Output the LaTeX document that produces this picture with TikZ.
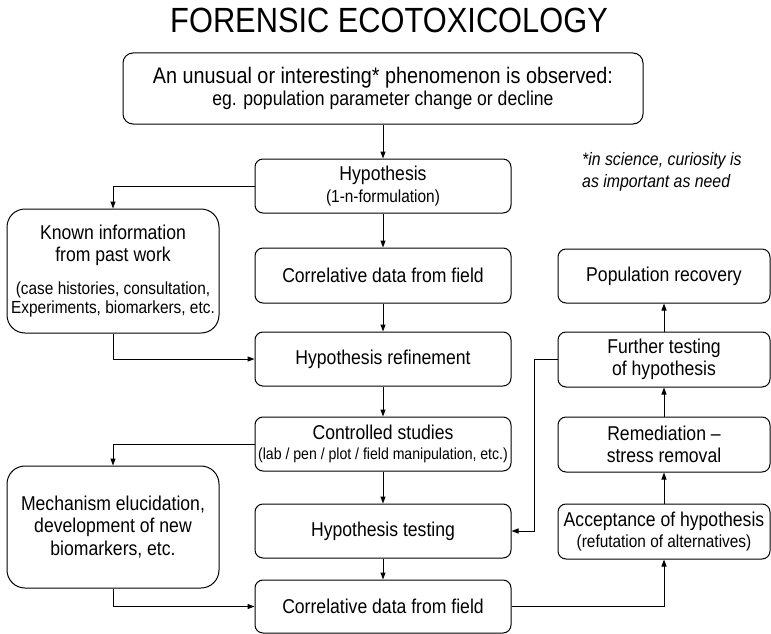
\documentclass[tikz,border=0pt]{standalone}
\usepackage{fontspec}
\setmainfont{Liberation Sans}[FakeStretch=0.88]
\usetikzlibrary{arrows.meta}
\newcommand{\bigf}{\fontsize{20}{22.5}\selectfont}
\newcommand{\smallf}{\fontsize{17.5}{20}\selectfont}

\begin{document}
\begin{tikzpicture}[x=1pt,y=-1pt,
		box/.style={draw,rounded corners=8pt,line width=1pt,inner sep=0pt,minimum width=256pt,minimum height=54pt,align=center,font=\bigf},
		sidebox/.style={box,rounded corners=18pt,minimum width=212pt},
		rightbox/.style={box,minimum width=212pt,minimum height=55pt},
		flow/.style={line width=1pt,-{Triangle[length=7pt,width=5pt]}}]
		\useasboundingbox (0,0) rectangle (771,634);
		\node[inner sep=0pt,font=\fontsize{35}{40}\selectfont] (title) at (389,20) {FORENSIC ECOTOXICOLOGY};
		\node[box,rounded corners=10pt,minimum width=520pt,minimum height=71pt] (obs) at (383,88.5) {{\fontsize{22.5}{25}\selectfont An unusual or interesting* phenomenon is observed:}\\eg. population parameter change or decline};
		\node[box] (hyp) at (383,186) {Hypothesis\\[-1pt]{\smallf (1-n-formulation)}};
		\node[box,minimum height=55pt] (corr1) at (383,275.5) {Correlative data from field};
		\node[box] (refine) at (383,359) {Hypothesis refinement};
		\node[box] (ctrl) at (383,444) {Controlled studies\\[-2pt]{\fontsize{16}{18}\selectfont (lab / pen / plot / field manipulation, etc.)}};
		\node[box] (test) at (383,531) {Hypothesis testing};
		\node[box,minimum height=53pt] (corr2) at (383,606.5) {Correlative data from field};
		\node[sidebox,minimum height=124pt] (known) at (113,271) {Known information\\from past work\\[10pt]{\smallf (case histories, consultation,}\\[-3pt]{\smallf Experiments, biomarkers, etc.}};
		\node[sidebox,minimum height=122pt] (mech) at (113,527) {Mechanism elucidation,\\development of new\\biomarkers, etc.};
		\node[rightbox,minimum height=54pt] (pop) at (664,276) {Population recovery};
		\node[rightbox] (further) at (664,359.5) {Further testing\\of hypothesis};
		\node[rightbox] (remed) at (664,444.5) {Remediation --\\stress removal};
		\node[rightbox] (accept) at (664,531.5) {Acceptance of hypothesis\\[-2pt]{\smallf (refutation of alternatives)}};
		\node[inner sep=0pt,anchor=west,align=left,font=\fontsize{18}{22}\itshape] (note) at (582,172) {*in science, curiosity is\\as important as need};
		\coordinate (bend) at (534,0);

		\path [flow] (obs) edge (hyp);
		\path [flow] (hyp) edge (corr1);
		\path [flow] (corr1) edge (refine);
		\path [flow] (refine) edge (ctrl);
		\path [flow] (ctrl) edge (test);
		\path [flow] (test) edge (corr2);
		\path [flow] (accept) edge (remed);
		\path [flow] (remed) edge (further);
		\path [flow] (further) edge (pop);
		\draw [flow] (hyp.west) -| (known.north);
		\draw [flow] (known.south) |- (refine.west);
		\draw [flow] (ctrl.west) -| (mech.north);
		\draw [flow] (mech.south) |- (corr2.west);
		\draw [flow] (corr2.east) -| (accept.south);
		\draw [flow] (further.west) -| (bend |- test.east) -- (test.east);
	\end{tikzpicture}
\end{document}
